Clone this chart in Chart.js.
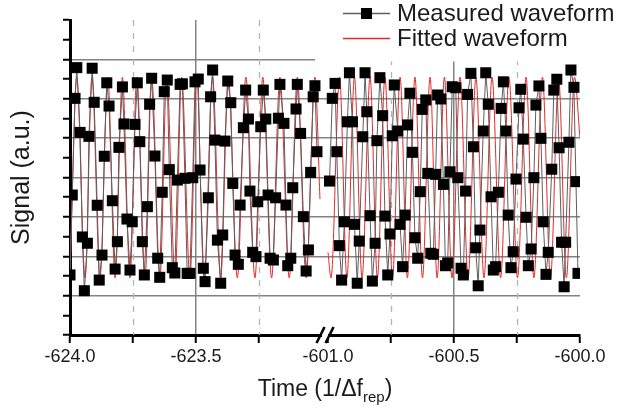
<!DOCTYPE html>
<html>
<head>
<meta charset="utf-8">
<script src="https://cdn.jsdelivr.net/npm/chart.js@4/dist/chart.umd.min.js"></script>
<style>
  html, body { margin: 0; padding: 0; background: #fff; }
  canvas { display: block; }
</style>
</head>
<body>
<canvas id="c" width="625" height="415"></canvas>
<script>
// ---------------- data ----------------
// Measured waveform, left segment (time in 1/Δf_rep)
const leftTime = [
  -624.000, -623.991, -623.980, -623.973, -623.960, -623.951, -623.943, -623.931, -623.925, -623.912,
  -623.904, -623.892, -623.884, -623.873, -623.864, -623.854, -623.845, -623.832, -623.821, -623.812,
  -623.806, -623.792, -623.786, -623.774, -623.762, -623.753, -623.742, -623.733, -623.723, -623.713,
  -623.705, -623.693, -623.684, -623.676, -623.663, -623.652, -623.644, -623.634, -623.626, -623.614,
  -623.606, -623.594, -623.584, -623.574, -623.563, -623.554, -623.544, -623.535, -623.524, -623.513,
  -623.504, -623.491, -623.484, -623.471, -623.464, -623.451, -623.442, -623.434, -623.425, -623.415,
  -623.402, -623.394, -623.385, -623.374, -623.362, -623.354, -623.345, -623.332, -623.325, -623.312,
  -623.303, -623.292, -623.286, -623.275, -623.262, -623.255, -623.243, -623.233, -623.223, -623.214,
  -623.206, -623.193, -623.184, -623.173, -623.167, -623.151, -623.143, -623.136, -623.124, -623.116,
  -623.103, -623.098, -623.085, -623.074, -623.063, -623.054, -623.045, -623.035, -623.028, -623.020
];
const leftSignal = [
  3.05, 7.11, 12.02, 13.58, 10.29, 4.98, 2.25, 4.66, 10.09, 13.55,
  11.82, 6.59, 2.79, 4.06, 9.08, 12.81, 11.63, 6.82, 3.35, 4.74,
  9.53, 12.60, 10.72, 5.89, 3.30, 5.75, 10.70, 12.81, 9.82, 4.74,
  3.05, 6.52, 11.72, 13.04, 9.09, 3.90, 2.93, 7.25, 12.36, 12.95,
  8.40, 3.42, 3.15, 7.87, 12.73, 12.76, 7.96, 3.13, 3.13, 7.99,
  12.86, 13.00, 8.38, 3.39, 2.71, 6.97, 12.10, 13.46, 9.90, 4.82,
  2.63, 5.08, 9.85, 12.90, 11.80, 7.70, 4.06, 3.59, 6.60, 10.53,
  12.44, 10.97, 7.31, 4.20, 3.98, 6.77, 10.58, 12.44, 10.97, 7.11,
  3.90, 3.81, 6.97, 11.01, 12.73, 10.75, 6.60, 3.52, 3.90, 7.48,
  11.48, 12.73, 10.24, 6.01, 3.25, 4.32, 8.26, 12.10, 12.66, 9.31
];
// Measured waveform, right segment
const rightTime = [
  -600.994, -600.983, -600.972, -600.965, -600.955, -600.946, -600.935, -600.923, -600.915, -600.903,
  -600.895, -600.884, -600.876, -600.862, -600.853, -600.846, -600.833, -600.824, -600.813, -600.806,
  -600.794, -600.783, -600.774, -600.763, -600.754, -600.745, -600.737, -600.723, -600.714, -600.704,
  -600.694, -600.684, -600.675, -600.665, -600.655, -600.644, -600.634, -600.626, -600.612, -600.604,
  -600.592, -600.582, -600.573, -600.565, -600.552, -600.542, -600.534, -600.525, -600.516, -600.507,
  -600.493, -600.485, -600.472, -600.463, -600.454, -600.446, -600.433, -600.423, -600.414, -600.404,
  -600.397, -600.384, -600.374, -600.364, -600.353, -600.344, -600.335, -600.324, -600.313, -600.304,
  -600.294, -600.285, -600.274, -600.265, -600.254, -600.242, -600.235, -600.225, -600.214, -600.205,
  -600.194, -600.183, -600.175, -600.163, -600.155, -600.146, -600.135, -600.126, -600.112, -600.104,
  -600.092, -600.083, -600.073, -600.063, -600.057, -600.044, -600.036, -600.024, -600.016, -600.008
];
const rightSignal = [
  7.82, 12.02, 12.78, 9.31, 4.54, 2.79, 5.75, 10.83, 13.32, 10.83,
  5.62, 2.63, 4.77, 10.07, 13.32, 11.34, 6.06, 2.74, 4.66, 9.87,
  13.07, 11.14, 6.04, 3.05, 5.13, 10.12, 12.70, 10.36, 5.62, 3.47,
  6.09, 10.67, 12.28, 9.28, 4.94, 3.90, 7.28, 11.46, 11.94, 8.21,
  4.15, 4.10, 8.16, 12.19, 11.99, 7.65, 3.52, 3.66, 8.29, 12.61,
  12.56, 7.99, 3.39, 3.05, 7.31, 12.22, 13.29, 9.56, 4.43, 2.50,
  5.33, 10.36, 13.32, 11.72, 7.02, 3.30, 3.47, 7.25, 11.51, 12.86,
  10.36, 6.09, 3.42, 4.23, 7.92, 11.54, 12.48, 9.95, 5.98, 3.52,
  4.37, 7.99, 11.68, 12.65, 9.99, 5.75, 3.08, 4.20, 8.42, 12.44,
  12.99, 9.51, 4.71, 2.45, 4.71, 9.79, 13.46, 12.58, 7.79, 3.13
];
// Fitted waveform: crests and troughs
const fitLeftTime = [
  -624.000, -623.973, -623.940, -623.913, -623.881, -623.850, -623.821, -623.792, -623.762, -623.735,
  -623.702, -623.676, -623.643, -623.616, -623.583, -623.557, -623.524, -623.497, -623.468, -623.434,
  -623.402, -623.372, -623.336, -623.302, -623.266, -623.235, -623.200, -623.167, -623.130, -623.098,
  -623.063, -623.028, -623.008
];
const fitLeftSignal = [
  3.2, 13.1, 2.9, 13.1, 2.9, 13.1, 2.9, 13.1, 2.9, 13.1,
  2.9, 13.1, 2.9, 13.1, 2.9, 13.1, 2.9, 13.1, 2.9, 13.1,
  2.9, 13.1, 2.9, 13.1, 2.9, 13.1, 2.9, 13.1, 2.9, 13.1,
  2.9, 13.1, 6.9
];
const fitRightTime = [
  -601.000, -600.988, -600.954, -600.925, -600.895, -600.865, -600.833, -600.804, -600.774, -600.744,
  -600.714, -600.685, -600.655, -600.625, -600.595, -600.567, -600.538, -600.508, -600.476, -600.444,
  -600.413, -600.381, -600.349, -600.315, -600.282, -600.248, -600.214, -600.183, -600.149, -600.117,
  -600.085, -600.054, -600.022, -600.000
];
const fitRightSignal = [
  4.2, 2.9, 13.1, 2.9, 13.1, 2.9, 13.1, 2.9, 13.1, 2.9,
  13.1, 2.9, 13.1, 2.9, 13.1, 2.9, 13.1, 2.9, 13.1, 2.9,
  13.1, 2.9, 13.1, 2.9, 13.1, 2.9, 13.1, 2.9, 13.1, 2.9,
  13.1, 2.9, 13.1, 10.0
];
// Axis ticks
const xMajorTimes = [-624.0, -623.5, -601.0, -600.5, -600.0];
const xMajorLabels = ['-624.0', '-623.5', '-601.0', '-600.5', '-600.0'];
const xMinorTimes = [-623.75, -623.25, -600.75, -600.25];
const xGridSolidTimes = [-623.5, -600.5];
const yTickValues = [0,1,2,3,4,5,6,7,8,9,10,11,12,13,14,15,16];
const yGridValues = [2,4,6,8,10,12,14];
const seriesLabels = ['Measured waveform', 'Fitted waveform'];
const yTitle = 'Signal (a.u.)';
const xTitleMain = 'Time (1/\u0394f';
const xTitleSub = 'rep';
const xTitleEnd = ')';

// ---------------- broken time axis mapping ----------------
const BREAK_TIME = -612;          // times before this belong to the left segment
const LEFT_START = -624.0;
const RIGHT_START = -601.0;
const RIGHT_OFFSET = 1.0238;      // axis position where the right segment starts
const BREAK_U = 1.012;            // where the // marks are drawn
function toU(t) { return t < BREAK_TIME ? t - LEFT_START : t - RIGHT_START + RIGHT_OFFSET; }

const measuredPts = leftTime.map((t, i) => ({ x: toU(t), y: leftSignal[i] }))
  .concat([{ x: BREAK_U, y: null }])
  .concat(rightTime.map((t, i) => ({ x: toU(t), y: rightSignal[i] })));
const fittedPts = fitLeftTime.map((t, i) => ({ x: toU(t), y: fitLeftSignal[i] }))
  .concat([{ x: BREAK_U, y: null }])
  .concat(fitRightTime.map((t, i) => ({ x: toU(t), y: fitRightSignal[i] })));

const xTickTimes = xMajorTimes.concat(xMinorTimes).sort((a, b) => a - b);
const near = (a, b) => Math.abs(a - b) < 1e-6;

const FONT = '"Liberation Sans", Arial, Helvetica, sans-serif';
Chart.defaults.font.family = FONT;
Chart.defaults.color = '#1a1a1a';

const decor = {
  id: 'decor',
  beforeDatasetsDraw(chart) {
    const { ctx, chartArea: a } = chart;
    const xs = chart.scales.x;
    ctx.save();
    ctx.strokeStyle = '#b4b4b4';
    ctx.lineWidth = 1.3;
    ctx.setLineDash([6, 7]);
    xMinorTimes.forEach(t => {
      const px = Math.round(xs.getPixelForValue(toU(t))) + 0.5;
      ctx.beginPath(); ctx.moveTo(px, a.top); ctx.lineTo(px, a.bottom); ctx.stroke();
    });
    ctx.setLineDash([]);
    // white legend box covering the top right corner of the plot
    ctx.fillStyle = '#fff';
    ctx.fillRect(315, 0, chart.width - 315, 61.5);
    ctx.restore();
  },
  afterDraw(chart) {
    const { ctx, chartArea: a } = chart;
    const xs = chart.scales.x;
    const ds = chart.data.datasets;
    ctx.save();
    // axis break marks
    const bx = xs.getPixelForValue(BREAK_U);
    const by = a.bottom;
    ctx.fillStyle = '#fff';
    ctx.fillRect(bx - 3, by - 3, 6, 7);
    ctx.strokeStyle = '#000';
    ctx.lineWidth = 2.6;
    [-4.5, 4.5].forEach(d => {
      ctx.beginPath();
      ctx.moveTo(bx + d - 4, by + 8);
      ctx.lineTo(bx + d + 4, by - 8);
      ctx.stroke();
    });
    // legend
    ctx.font = '24px ' + FONT;
    ctx.textBaseline = 'middle';
    ctx.textAlign = 'left';
    const lx0 = 343, lx1 = 390, tx = 397;
    const rows = [13, 38];
    // measured
    ctx.strokeStyle = ds[0].borderColor; ctx.lineWidth = 1.3;
    ctx.beginPath(); ctx.moveTo(lx0, rows[0] + 0.5); ctx.lineTo(lx1, rows[0] + 0.5); ctx.stroke();
    ctx.fillStyle = ds[0].pointBackgroundColor;
    ctx.fillRect((lx0 + lx1) / 2 - 5.5, rows[0] - 5, 11, 11);
    ctx.fillStyle = '#1a1a1a';
    ctx.fillText(ds[0].label, tx, rows[0] + 1);
    // fitted
    ctx.strokeStyle = ds[1].borderColor; ctx.lineWidth = 1.3;
    ctx.beginPath(); ctx.moveTo(lx0, rows[1] + 0.5); ctx.lineTo(lx1, rows[1] + 0.5); ctx.stroke();
    ctx.fillStyle = '#1a1a1a';
    ctx.fillText(ds[1].label, tx, rows[1] + 1);
    // x title with subscript
    ctx.textBaseline = 'alphabetic';
    const mainFont = '23px ' + FONT, subFont = '15px ' + FONT;
    ctx.font = mainFont; const w1 = ctx.measureText(xTitleMain).width; const w3 = ctx.measureText(xTitleEnd).width;
    ctx.font = subFont; const w2 = ctx.measureText(xTitleSub).width;
    const cx = (a.left + a.right) / 2;
    let sx = cx - (w1 + w2 + w3) / 2;
    const base = 396;
    ctx.font = mainFont; ctx.fillText(xTitleMain, sx, base); sx += w1;
    ctx.font = subFont; ctx.fillText(xTitleSub, sx, base + 6); sx += w2;
    ctx.font = mainFont; ctx.fillText(xTitleEnd, sx, base);
    ctx.restore();
  }
};

new Chart(document.getElementById('c'), {
  type: 'line',
  data: {
    datasets: [
      {
        label: seriesLabels[0],
        data: measuredPts,
        borderColor: '#5e5e5e',
        borderWidth: 1,
        pointStyle: 'rect',
        pointRadius: 7.8,
        pointBackgroundColor: '#000',
        pointBorderWidth: 0,
        tension: 0,
        spanGaps: false,
        clip: 0,
        order: 0
      },
      {
        label: seriesLabels[1],
        data: fittedPts,
        borderColor: '#e22a2a',
        borderWidth: 1,
        pointRadius: 0,
        cubicInterpolationMode: 'monotone',
        spanGaps: false,
        clip: 0,
        order: 1
      }
    ]
  },
  options: {
    responsive: false,
    devicePixelRatio: 1,
    animation: false,
    events: [],
    layout: { padding: { left: 0, right: 45, top: 20, bottom: 0 } },
    plugins: { legend: { display: false }, tooltip: { enabled: false } },
    scales: {
      x: {
        type: 'linear',
        min: 0,
        max: toU(-600.0),
        afterBuildTicks: s => { s.ticks = xTickTimes.map(t => ({ value: toU(t) })); },
        afterFit: s => { s.height = 80; },
        ticks: {
          autoSkip: false, maxRotation: 0, minRotation: 0,
          font: { size: 18 }, color: '#1a1a1a', padding: 3,
          callback: v => {
            const i = xMajorTimes.findIndex(t => near(toU(t), v));
            return i >= 0 ? xMajorLabels[i] : '';
          }
        },
        grid: {
          drawOnChartArea: true,
          color: c => (c.tick && xGridSolidTimes.some(t => near(toU(t), c.tick.value))) ? '#828282' : 'rgba(0,0,0,0)',
          lineWidth: 1.5,
          tickColor: '#000',
          tickLength: 8,
          tickWidth: 2
        },
        border: { display: true, color: '#000', width: 3 }
      },
      y: {
        type: 'linear',
        min: 0,
        max: 16,
        afterBuildTicks: s => { s.ticks = yTickValues.map(v => ({ value: v })); },
        afterFit: s => { s.width = 70; },
        ticks: { display: false },
        grid: {
          color: c => (c.tick && yGridValues.includes(c.tick.value)) ? '#828282' : 'rgba(0,0,0,0)',
          lineWidth: 1.5,
          tickColor: '#000',
          tickLength: 7,
          tickWidth: 2
        },
        border: { display: true, color: '#000', width: 3 },
        title: {
          display: true, text: yTitle, color: '#1a1a1a',
          font: { size: 25 }, padding: { top: 7, bottom: 0 }
        }
      }
    }
  },
  plugins: [decor]
});
</script>
</body>
</html>
